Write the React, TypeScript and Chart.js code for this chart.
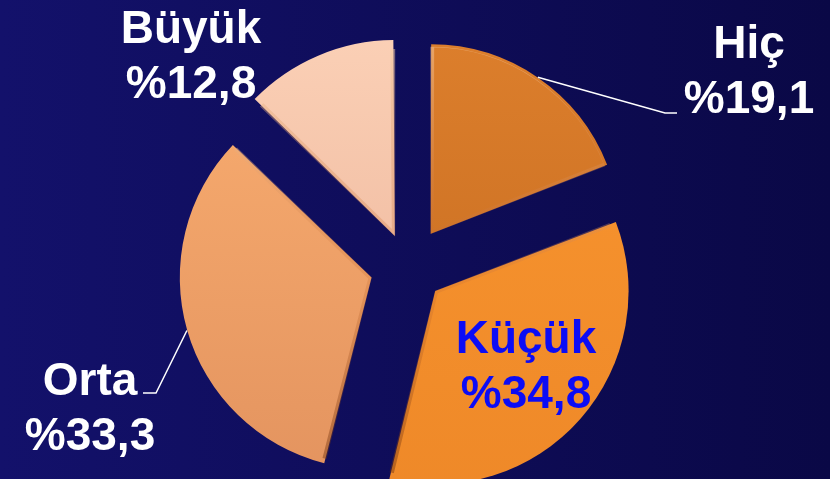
import React, { useEffect, useRef } from "react";
import { Chart, registerables } from "chart.js";

Chart.register(...registerables);

const categories = ["Hiç", "Küçük", "Orta", "Büyük"];
const values = [19.1, 34.8, 33.3, 12.8];
const valueLabels = ["%19,1", "%34,8", "%33,3", "%12,8"];

const topColors = ["#de802d", "#f8952f", "#f9ad70", "#fcd2b8"];
const bottomColors = ["#c46a1f", "#ee8828", "#e2925e", "#eab095"];
const textColors = ["#ffffff", "#0c0cf5", "#ffffff", "#ffffff"];
// text placement: [centerX, firstBaseline]
const labelPlaces = [
  [749, 58],
  [526, 353],
  [90, 395],
  [191, 43],
];
// leader elbow points (null = no leader)
const leaderElbows: (number[] | null)[] = [
  [665, 113, 677, 113],
  null,
  [156, 393, 143, 393],
  null,
];

const EXPLODE = 43;
const total = values.reduce((a, b) => a + b, 0);

// Chart.js draws offset/4 plus a small-slice correction; invert it so each slice moves EXPLODE px
const sliceOffset = (i: number) => {
  const circ = (2 * Math.PI * values[i]) / total;
  const fix = 1 - Math.sin(Math.min(Math.PI, circ));
  return (4 * EXPLODE) / (1 + fix);
};

const labelPlugin = {
  id: "sliceLabels",
  beforeDraw(chart: any) {
    const { ctx, width, height } = chart;
    const g = ctx.createLinearGradient(0, 0, width, 0);
    g.addColorStop(0, "#13116b");
    g.addColorStop(1, "#0a0846");
    ctx.save();
    ctx.fillStyle = g;
    ctx.fillRect(0, 0, width, height);
    ctx.restore();
  },
  afterDatasetsDraw(chart: any) {
    const { ctx } = chart;
    const meta = chart.getDatasetMeta(0);
    ctx.save();
    meta.data.forEach((arc: any, i: number) => {
      const el = leaderElbows[i];
      if (el) {
        const mid = (arc.startAngle + arc.endAngle) / 2;
        const r = arc.outerRadius + EXPLODE;
        const sx = arc.x + Math.cos(mid) * r;
        const sy = arc.y + Math.sin(mid) * r;
        ctx.strokeStyle = "#ffffff";
        ctx.lineWidth = 1.5;
        ctx.beginPath();
        ctx.moveTo(sx, sy);
        ctx.lineTo(el[0], el[1]);
        ctx.lineTo(el[2], el[3]);
        ctx.stroke();
      }
      const [cx, by] = labelPlaces[i];
      ctx.font = "bold 46px 'Liberation Sans', Arial, sans-serif";
      ctx.textAlign = "center";
      ctx.textBaseline = "alphabetic";
      ctx.fillStyle = textColors[i];
      ctx.fillText(categories[i], cx, by);
      ctx.fillText(valueLabels[i], cx, by + 55);
    });
    ctx.restore();
  },
};

export default function App() {
  const ref = useRef<HTMLCanvasElement>(null);
  useEffect(() => {
    if (!ref.current) return;
    const chart = new Chart(ref.current, {
      type: "pie",
      data: {
        labels: categories,
        datasets: [
          {
            data: values,
            backgroundColor: (c: any) => {
              const ch = c.chart;
              const area = ch.chartArea;
              if (!area) return topColors[c.dataIndex];
              const cy = (area.top + area.bottom) / 2;
              const g = ch.ctx.createLinearGradient(0, cy - 230, 0, cy + 230);
              g.addColorStop(0, topColors[c.dataIndex]);
              g.addColorStop(1, bottomColors[c.dataIndex]);
              return g;
            },
            borderColor: (c: any) => {
              const ch = c.chart;
              const area = ch.chartArea;
              if (!area) return "rgba(120,50,10,0.3)";
              const cy = (area.top + area.bottom) / 2;
              const g = ch.ctx.createLinearGradient(0, cy - 230, 0, cy + 230);
              g.addColorStop(0, "rgba(255,225,190,0.55)");
              g.addColorStop(0.5, "rgba(200,110,50,0.25)");
              g.addColorStop(1, "rgba(90,35,5,0.5)");
              return g;
            },
            borderWidth: 3,
            borderAlign: "inner",
            offset: (c: any) => sliceOffset(c.dataIndex),
            radius: 187,
            clip: false,
          } as any,
        ],
      },
      options: {
        responsive: false,
        animation: false,
        events: [],
        layout: { padding: { left: 0, right: 14, top: 55, bottom: 0 } },
        plugins: {
          legend: { display: false },
          tooltip: { enabled: false },
          title: { display: false },
        },
      },
      plugins: [labelPlugin],
    });
    return () => chart.destroy();
  }, []);
  return (
    <div style={{ position: "fixed", left: 0, top: 0, width: 830, height: 479, background: "#0f0d5c" }}>
      <canvas ref={ref} width={830} height={479} style={{ width: 830, height: 479, display: "block" }} />
    </div>
  );
}
